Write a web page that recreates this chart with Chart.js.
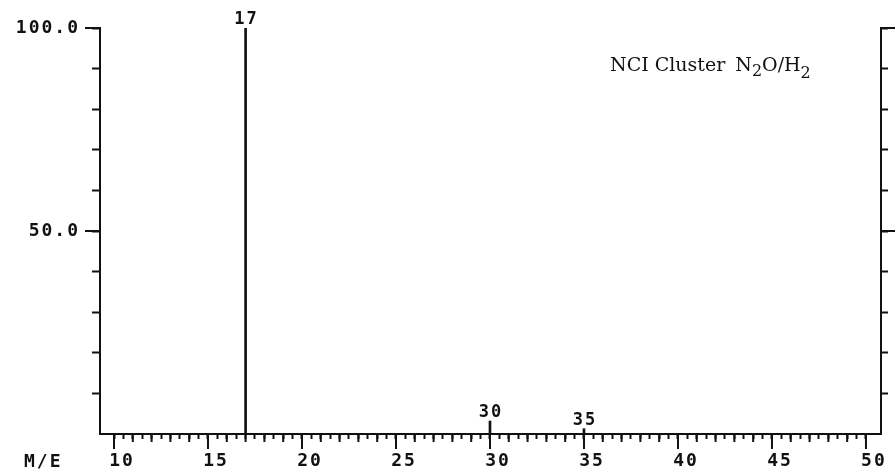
<!DOCTYPE html>
<html>
<head>
<meta charset="utf-8">
<script src="https://cdn.jsdelivr.net/npm/chart.js@4.4.1/dist/chart.umd.min.js"></script>
<style>
  html, body { margin: 0; padding: 0; background: #fff; }
  #wrap { width: 896px; height: 476px; }
</style>
</head>
<body>
<div id="wrap"><canvas id="spectrum" width="896" height="476"></canvas></div>
<script>
// peaks (m/e and relative intensity, %)
const massValues = [17, 30, 35];
const intensityValues = [100, 3.2, 1.3];
const peakLabels = ["17", "30", "35"];

// labelled ticks
const xLabelValues = [10, 15, 20, 25, 30, 35, 40, 45, 50];
const yLabelValues = [50, 100];
const yLabelText = ["50.0", "100.0"];

const xAxisName = "M/E";
const noteMain = "NCI Cluster";

const ink = "#111";
const mono = "'DejaVu Sans Mono', monospace";
const serif = "'DejaVu Serif', serif";

// extra tick marks, labels over the peaks and the note in the corner
const decorPlugin = {
    id: "decor",
    beforeDraw: chart => {
        chart.ctx.letterSpacing = "2px";
    },
    afterDraw: chart => {
        const ctx = chart.ctx;
        const xs = chart.scales.x;
        const ys = chart.scales.y;
        const area = chart.chartArea;
        ctx.save();
        ctx.strokeStyle = ink;
        ctx.lineWidth = 2;
        ctx.lineCap = "butt";

        // longer ticks on whole numbers, longest on labelled ones
        xs.ticks.forEach(t => {
            if (Math.abs(t.value - Math.round(t.value)) > 1e-6) return;
            const px = xs.getPixelForValue(t.value);
            const len = xLabelValues.includes(t.value) ? 15 : 8;
            ctx.beginPath();
            ctx.moveTo(px, area.bottom);
            ctx.lineTo(px, area.bottom + len);
            ctx.stroke();
        });

        // long ticks on the labelled intensities, both sides
        yLabelValues.forEach(v => {
            const py = ys.getPixelForValue(v);
            ctx.beginPath();
            ctx.moveTo(area.left - 15, py);
            ctx.lineTo(area.left, py);
            ctx.moveTo(area.right, py);
            ctx.lineTo(area.right + 14, py);
            ctx.stroke();
        });

        // peak labels
        ctx.fillStyle = ink;
        ctx.font = "bold 17px " + mono;
        ctx.letterSpacing = "2px";
        ctx.textAlign = "center";
        ctx.textBaseline = "alphabetic";
        massValues.forEach((m, i) => {
            const px = xs.getPixelForValue(m) + 1;
            const py = ys.getPixelForValue(intensityValues[i]) - 4;
            ctx.fillText(peakLabels[i], px, py);
        });

        // axis name
        ctx.font = "bold 18px " + mono;
        ctx.textAlign = "left";
        ctx.fillText(xAxisName, 24, 467);

        // note: NCI Cluster N2O/H2
        ctx.letterSpacing = "0px";
        ctx.font = "19px " + serif;
        ctx.fillText(noteMain, 610, 71);
        let x = 610 + ctx.measureText(noteMain).width + 10;
        const part = (txt, size, dy) => {
            ctx.font = size + "px " + serif;
            ctx.fillText(txt, x, 71 + dy);
            x += ctx.measureText(txt).width;
        };
        part("N", 19, 0);
        part("2", 16, 5);
        part("O/H", 19, 0);
        part("2", 16, 7);
        ctx.restore();
    }
};

const ctx = document.getElementById("spectrum").getContext("2d");
const spectrumChart = new Chart(ctx, {
    type: "bar",
    data: {
        datasets: [{
            data: massValues.map((m, i) => ({ x: m, y: intensityValues[i] })),
            backgroundColor: ink,
            borderWidth: 0,
            barThickness: 2
        }]
    },
    options: {
        responsive: false,
        animation: false,
        devicePixelRatio: 1,
        events: [],
        layout: { padding: { top: 28, left: 0, right: 0, bottom: 0 } },
        plugins: { legend: { display: false }, tooltip: { enabled: false } },
        scales: {
            x: {
                type: "linear",
                position: "bottom",
                offset: false,
                min: 9.255,
                max: 50.8,
                afterBuildTicks: scale => {
                    scale.ticks = scale.ticks.filter(t => Math.abs(t.value * 2 - Math.round(t.value * 2)) < 1e-6);
                },
                afterFit: scale => { scale.height = 42; },
                ticks: {
                    stepSize: 0.5,
                    autoSkip: false,
                    maxRotation: 0,
                    minRotation: 0,
                    labelOffset: 8,
                    padding: 12,
                    color: ink,
                    font: { family: mono, size: 18, weight: "bold" },
                    callback: v => xLabelValues.includes(v) ? String(v) : ""
                },
                grid: { drawOnChartArea: false, offset: false, tickLength: 5, tickWidth: 2, tickColor: ink },
                border: { color: ink, width: 2 }
            },
            y: {
                type: "linear",
                position: "left",
                min: 0,
                max: 100,
                afterFit: scale => { scale.width = 100; },
                ticks: {
                    stepSize: 10,
                    autoSkip: false,
                    padding: 12,
                    color: ink,
                    font: { family: mono, size: 18, weight: "bold" },
                    callback: v => {
                        const i = yLabelValues.indexOf(v);
                        return i >= 0 ? yLabelText[i] : "";
                    }
                },
                grid: {
                    drawOnChartArea: false,
                    tickLength: 8,
                    tickWidth: 2,
                    tickColor: c => (c.tick && c.tick.value === 0) ? "rgba(0,0,0,0)" : ink
                },
                border: { color: ink, width: 2 }
            },
            y2: {
                type: "linear",
                position: "right",
                min: 0,
                max: 100,
                afterFit: scale => { scale.width = 15; },
                ticks: { stepSize: 10, autoSkip: false, callback: () => "" },
                grid: {
                    drawOnChartArea: false,
                    tickLength: 7,
                    tickWidth: 2,
                    tickColor: c => (c.tick && c.tick.value === 0) ? "rgba(0,0,0,0)" : ink
                },
                border: { color: ink, width: 2 }
            }
        }
    },
    plugins: [decorPlugin]
});
</script>
</body>
</html>
